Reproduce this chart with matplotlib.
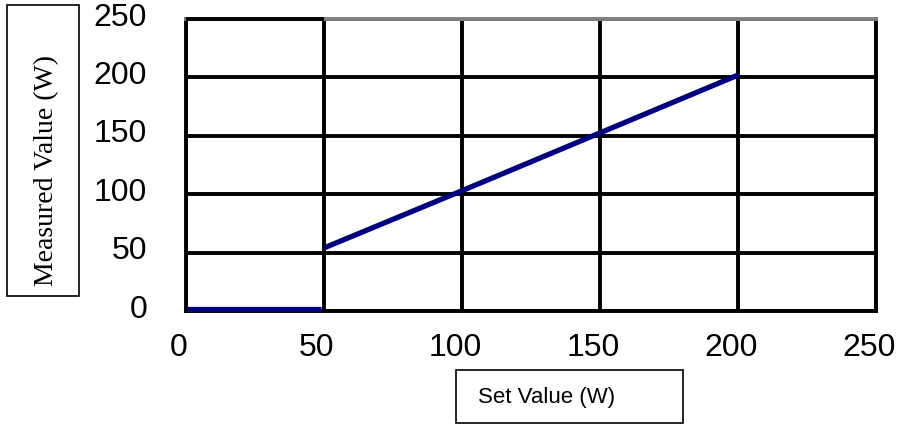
import matplotlib.pyplot as plt
from matplotlib.patches import Rectangle
from matplotlib.transforms import ScaledTranslation

# data
set_low = [0, 49]
meas_low = [2, 2]
set_vals = [50, 100, 150, 200]
meas_vals = [54, 103, 152.5, 202]
ticks = [0, 50, 100, 150, 200, 250]

tick_font = ['Liberation Sans Narrow', 'Liberation Sans', 'DejaVu Sans']

fig = plt.figure(figsize=(8.99, 4.25), dpi=100)
ax = fig.add_axes([186/899, 1 - 311/425, (876 - 186)/899, (311 - 19)/425])

ax.plot(set_low, meas_low, color='#000080', lw=3.8, solid_capstyle='butt',
        zorder=5, clip_on=False)
ax.plot(set_vals, meas_vals, color='#000080', lw=3.8, solid_capstyle='butt', zorder=3)

ax.set_xlim(ticks[0], ticks[-1])
ax.set_ylim(ticks[0], ticks[-1])
ax.set_xticks(ticks)
ax.set_yticks(ticks)
ax.grid(True, color='black', lw=2.8, zorder=1)
ax.set_axisbelow(True)
ax.tick_params(length=0)
ax.tick_params(axis='y', pad=28)
ax.tick_params(axis='x', pad=16)
for lab in ax.get_xticklabels():
    lab.set_family(tick_font)
    lab.set_fontsize(23)
    lab.set_transform(lab.get_transform() + ScaledTranslation(-0.07, 0, fig.dpi_scale_trans))
for lab in ax.get_yticklabels():
    lab.set_family(tick_font)
    lab.set_fontsize(23)
    lab.set_transform(lab.get_transform() + ScaledTranslation(0, 0.05, fig.dpi_scale_trans))

for side in ['left', 'bottom', 'right']:
    ax.spines[side].set_color('black')
    ax.spines[side].set_linewidth(2.8)
ax.spines['top'].set_color('#808080')
ax.spines['top'].set_linewidth(2.8)
# first cell of the top border is black in the reference
ax.hlines(ticks[-1], ticks[0], ticks[1], color='black', lw=2.8, zorder=4, clip_on=False)

# y label in a box
fig.patches.append(Rectangle((7/899, 1 - 296/425), 72/899, 291/425,
                             transform=fig.transFigure, fill=False,
                             edgecolor='black', lw=1.2))
fig.text(47/899, 1 - 170/425, 'Measured Value (W)', rotation=90,
         ha='center', va='center', family='Liberation Serif', fontsize=20)

# x label in a box
fig.patches.append(Rectangle((456/899, 1 - 423/425), 227/899, 53/425,
                             transform=fig.transFigure, fill=False,
                             edgecolor='black', lw=1.2))
fig.text(478/899, 1 - 397/425, 'Set Value (W)', ha='left', va='center',
         family=tick_font, fontsize=16)

plt.savefig('out.png', dpi=100)
